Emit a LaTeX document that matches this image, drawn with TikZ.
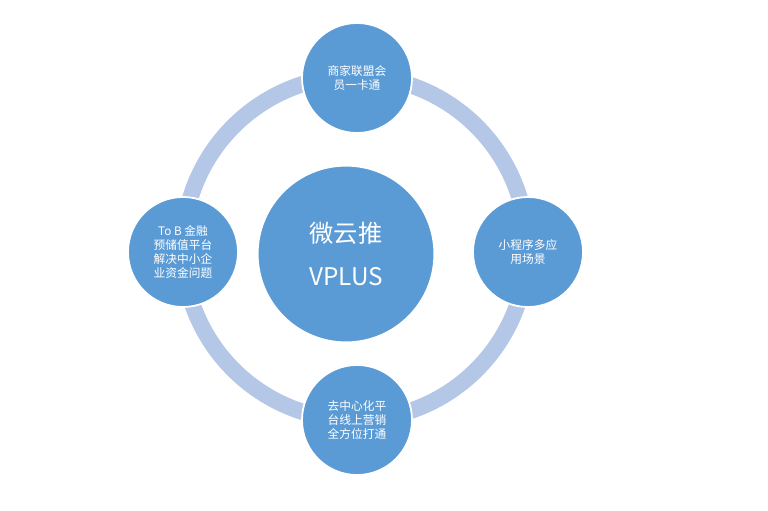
\documentclass[tikz,border=0pt]{standalone}
\usepackage{fontspec}
\setmainfont{Noto Sans CJK SC}
\usetikzlibrary{positioning}
\definecolor{ringblue}{HTML}{B4C7E7}
\definecolor{ballblue}{HTML}{5B9BD5}
\tikzset{ball/.style={circle, fill=ballblue, draw=white, line width=1.5pt, minimum size=3.3cm, inner sep=0pt, align=center, text=white, font=\normalsize}}
\begin{document}
\begin{tikzpicture}[x=0.03cm, y=-0.03cm]
    \useasboundingbox (0,0) rectangle (768,510);

    % ring
    \draw[ringblue, line width=14pt] (355,248) circle[radius=172];

    \node[ball, minimum size=5.3cm, font=\huge] (hub) at (346,254) {微云推\\[12pt]VPLUS};

    \node[ball] (top) at (357,78) {商家联盟会\\员一卡通};
    \node[ball] (right) at (528,252) {小程序多应\\用场景};
    \node[ball] (bottom) at (357,420) {去中心化平\\台线上营销\\全方位打通};
    \node[ball] (left) at (183,252) {To B 金融\\预储值平台\\解决中小企\\业资金问题};
\end{tikzpicture}
\end{document}
